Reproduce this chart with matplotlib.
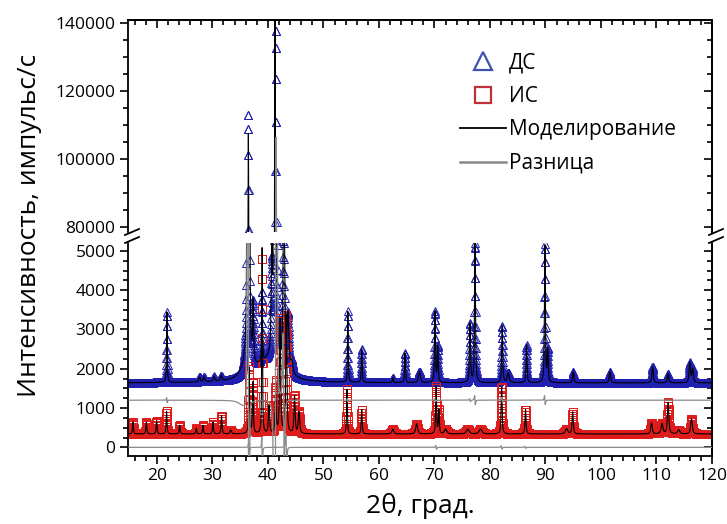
import numpy as np
import matplotlib
matplotlib.use("Agg")
from matplotlib import pyplot as plt
from matplotlib.ticker import MultipleLocator
from matplotlib.lines import Line2D

plt.rcParams['font.family'] = ['Open Sans', 'DejaVu Sans']

# сетка 2theta, шаг съёмки
tt = np.arange(15.0, 120.0001, 0.02)

# ДС: фон и пики (положение, высота над фоном, ширина, доля лоренциана)
ds_bg = 1640
ds_pos = [21.8, 27.7, 28.5, 30.3, 31.6, 40.0, 36.45, 37.35, 38.95, 40.7, 41.45, 42.8, 43.6, 44.3,
          54.4, 56.9, 62.5, 64.7, 67.3, 70.1, 70.6, 76.4, 77.3, 82.2, 83.3, 86.6, 89.9, 90.4,
          95.0, 101.6, 109.3, 112.1, 116.0, 116.5]
ds_h = [1800, 120, 120, 120, 130, 500, 111500, 1500, 1800, 2300, 136000, 5000, 1400, 300,
        1800, 850, 120, 750, 280, 1800, 900, 1500, 3550, 1450, 250, 950, 3500, 800,
        280, 280, 400, 230, 500, 350]
ds_w = [0.15, 0.3, 0.3, 0.3, 0.3, 6.0, 0.25, 0.2, 0.15, 0.25, 0.25, 0.3, 0.4, 0.5,
        0.15, 0.18, 0.2, 0.18, 0.4, 0.2, 0.2, 0.22, 0.2, 0.22, 0.4, 0.2, 0.2, 0.2,
        0.25, 0.3, 0.3, 0.3, 0.3, 0.3]
ds_eta = [0.7] * len(ds_pos)
ds_eta[6] = 0.15
ds_eta[10] = 0.12
# расчёт: сдвиг положения и отношение высот
ds_shift = [0.004, 0, 0, 0, 0, 0, 0.02, 0, 0, 0, -0.17, 0.08, 0, 0,
            0.003, 0, 0, 0, 0, 0.003, 0, 0.004, 0.005, 0.008, 0, 0, 0.005, 0,
            0, 0, 0, 0, 0, 0]
ds_ratio = [1, 1, 1, 1, 1, 1, 0.95, 1, 1, 1, 1.02, 1, 1, 1,
            1, 1, 1, 1, 1, 1, 1, 1, 1, 1, 1, 1, 1, 1,
            1, 1, 1, 1, 1, 1]
ds_calc_extra = ([35.8], [170], [2.0])
ds_diff_offset = 1200

# ИС
is_bg = 340
is_pos = [15.7, 18.1, 19.95, 21.75, 24.1, 27.1, 28.3, 30.1, 31.65, 33.3, 36.6, 37.3, 38.95, 40.2,
          41.4, 42.2, 43.3, 44.8, 45.6, 54.25, 56.9, 62.5, 66.8, 70.3, 70.8, 72.0, 76.0, 78.3,
          82.1, 86.4, 93.8, 94.9, 109.1, 111.0, 112.1, 114.0, 116.3]
is_h = [300, 300, 340, 580, 220, 140, 220, 300, 470, 100, 1700, 1300, 4500, 700,
        1300, 2900, 3000, 950, 550, 1150, 620, 120, 260, 1200, 600, 120, 120, 120,
        1200, 620, 130, 560, 280, 260, 800, 100, 380]
is_w = [0.2, 0.2, 0.2, 0.18, 0.2, 0.2, 0.2, 0.2, 0.2, 0.3, 0.2, 0.2, 0.15, 0.25,
        0.2, 0.25, 0.25, 0.25, 0.3, 0.18, 0.2, 0.4, 0.4, 0.2, 0.2, 0.5, 0.6, 0.6,
        0.22, 0.22, 0.5, 0.25, 0.3, 0.4, 0.3, 0.5, 0.35]
is_shift = [0, 0, 0, 0, 0, 0, 0, 0, 0, 0, 0.01, 0, 0.01, 0,
            0, 0, 0.02, 0, 0, 0, 0, 0, 0, 0.006, 0, 0, 0, 0,
            0.006, 0.006, 0, 0, 0, 0, 0, 0, 0]
is_ratio = [1] * len(is_pos)
is_ratio[12] = 1.05


def profile(bg, pos, h, w, shift=None, ratio=None, eta=None):
    y = np.full_like(tt, float(bg))
    for i in range(len(pos)):
        p = pos[i] + (shift[i] if shift else 0)
        a = h[i] * (ratio[i] if ratio else 1)
        e = eta[i] if eta else 0.7
        u = (tt - p) / (w[i] / 2)
        y += a * (e / (1 + u ** 2) + (1 - e) * np.exp(-np.log(2) * u ** 2))
    return y


ds_obs = profile(ds_bg, ds_pos, ds_h, ds_w, eta=ds_eta)
ds_calc = profile(ds_bg, ds_pos, ds_h, ds_w, ds_shift, ds_ratio, ds_eta) + \
    profile(0, *ds_calc_extra)
ds_diff = ds_obs - ds_calc + ds_diff_offset

is_obs = profile(is_bg, is_pos, is_h, is_w)
is_calc = profile(is_bg, is_pos, is_h, is_w, is_shift, is_ratio)
is_diff = is_obs - is_calc

blue = '#2020b0'
red = '#de1c1c'
grey = '#8a8a8a'

fig = plt.figure(figsize=(7.27, 5.24), dpi=100)
W, H = 727, 524
ax_top = fig.add_axes([128 / W, 1 - 232 / H, 584 / W, 212 / H])
ax_bot = fig.add_axes([128 / W, 1 - 456 / H, 584 / W, 213 / H])

for ax in (ax_top, ax_bot):
    ax.plot(tt, ds_obs, ls='none', marker='^', ms=6, mfc='none', mec=blue, mew=0.7, zorder=1)
    ax.plot(tt, is_obs, ls='none', marker='s', ms=5.5, mfc='none', mec=red, mew=0.7, zorder=1)
    ax.plot(tt, ds_calc, color='black', lw=0.8, zorder=2)
    ax.plot(tt, is_calc, color='black', lw=0.8, zorder=2)
    ax.plot(tt, ds_diff, color=grey, lw=0.9, zorder=3)
    ax.plot(tt, is_diff, color=grey, lw=0.9, zorder=3)
    ax.set_xlim(14.8, 120)
    for s in ax.spines.values():
        s.set_linewidth(1.3)
    ax.tick_params(which='both', direction='out', width=1.2, labelsize=12.5, pad=3)
    ax.tick_params(which='major', length=6)
    ax.tick_params(which='minor', length=3.5)
    ax.xaxis.set_major_locator(MultipleLocator(10))
    ax.xaxis.set_minor_locator(MultipleLocator(2))

ax_top.set_ylim(78400, 140800)
ax_top.yaxis.set_major_locator(MultipleLocator(20000))
ax_top.yaxis.set_minor_locator(MultipleLocator(5000))
ax_top.spines['bottom'].set_visible(False)
ax_top.tick_params(axis='x', which='both', bottom=False, labelbottom=False)

ax_bot.set_ylim(-220, 5200)
ax_bot.yaxis.set_major_locator(MultipleLocator(1000))
ax_bot.yaxis.set_minor_locator(MultipleLocator(250))
ax_bot.spines['top'].set_visible(False)

# засечки внутрь справа и сверху
sec = ax_top.secondary_xaxis('top')
sec.xaxis.set_major_locator(MultipleLocator(10))
sec.xaxis.set_minor_locator(MultipleLocator(2))
sec.tick_params(which='both', direction='in', width=1.2, labeltop=False)
sec.tick_params(which='major', length=6)
sec.tick_params(which='minor', length=3.5)
sec.spines['top'].set_linewidth(1.3)
for ax, maj, mnr in ((ax_top, 20000, 5000), (ax_bot, 1000, 250)):
    r = ax.secondary_yaxis('right')
    r.yaxis.set_major_locator(MultipleLocator(maj))
    r.yaxis.set_minor_locator(MultipleLocator(mnr))
    r.tick_params(which='both', direction='in', width=1.2, labelright=False)
    r.tick_params(which='major', length=6)
    r.tick_params(which='minor', length=3.5)
    r.spines['right'].set_linewidth(1.3)

# знаки разрыва оси
for x0 in (125, 709):
    for y0 in (235, 243):
        fig.add_artist(Line2D([x0 / W, (x0 + 14) / W], [1 - y0 / H, 1 - (y0 - 6) / H],
                              color='black', lw=1.3))

fig.text(30 / W, 1 - 225 / H, 'Интенсивность, импульс/с', rotation=90,
         ha='center', va='center', fontsize=19)
fig.text(420 / W, 1 - 506 / H, '2θ, град.', ha='center', va='center', fontsize=19)

handles = [
    Line2D([], [], ls='none', marker='^', ms=13, mfc='none', mec='#4050b0', mew=1.6),
    Line2D([], [], ls='none', marker='s', ms=11, mfc='none', mec='#c0303a', mew=1.6),
    Line2D([], [], color='black', lw=1.3),
    Line2D([], [], color=grey, lw=1.8),
]
labels = ['ДС', 'ИС', 'Моделирование', 'Разница']
fig.legend(handles, labels, loc='upper left', bbox_to_anchor=(450 / W, 1 - 42 / H),
           frameon=False, fontsize=15, borderpad=0, handlelength=2.2,
           handletextpad=0.15, labelspacing=0.6)

fig.savefig('out.png', dpi=100)
